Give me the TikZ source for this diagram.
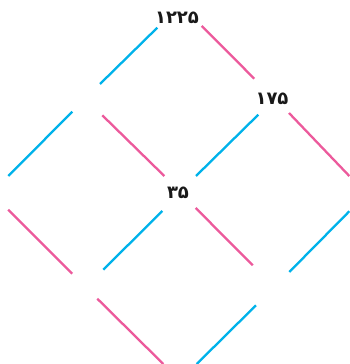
\documentclass[tikz,border=0pt]{standalone}
\usepackage{fontspec}
\newfontfamily\arabicfont[Script=Arabic]{DejaVu Sans}
\definecolor{cyanline}{HTML}{00B2EA}
\definecolor{pinkline}{HTML}{EC5A9C}
\tikzset{
  numlabel/.style={font=\arabicfont\bfseries\fontsize{18}{21}\selectfont, text=black!90, inner sep=0pt},
  cyanseg/.style={draw=cyanline, line width=2.3pt},
  pinkseg/.style={draw=pinkline, line width=2.3pt},
}
\begin{document}
\begin{tikzpicture}[x=1pt,y=1pt]
\useasboundingbox (0,0) rectangle (350,364);
% labels
\node[numlabel] (n1225) at (177,346) {۱۲۲۵};
\node[numlabel] (n175) at (272,265) {۱۷۵};
\node[numlabel] (n35) at (178,171) {۳۵};
% endpoints
\coordinate (c1a) at (157.3,336.3); \coordinate (c1b) at (100,280);
\coordinate (p1a) at (201.7,338);   \coordinate (p1b) at (254.3,285.3);
\coordinate (c2a) at (72.3,252.3);  \coordinate (c2b) at (8.3,188);
\coordinate (p2a) at (102.3,248.7); \coordinate (p2b) at (164.3,188);
\coordinate (c3a) at (258.3,249.3); \coordinate (c3b) at (196,188);
\coordinate (p3a) at (289,251);     \coordinate (p3b) at (349.3,188);
\coordinate (p4a) at (8.3,154.3);   \coordinate (p4b) at (72.3,90.3);
\coordinate (c4a) at (162.3,153);   \coordinate (c4b) at (103.3,94.3);
\coordinate (p5a) at (195.7,156);   \coordinate (p5b) at (252.7,98.7);
\coordinate (c5a) at (349.3,152.7); \coordinate (c5b) at (289.3,92);
\coordinate (p6a) at (97.3,65.3);   \coordinate (p6b) at (163.3,0);
\coordinate (c6a) at (256,58.7);    \coordinate (c6b) at (196.7,0);
% segments
\draw[cyanseg] (c1a) -- (c1b);
\draw[pinkseg] (p1a) -- (p1b);
\draw[cyanseg] (c2a) -- (c2b);
\draw[pinkseg] (p2a) -- (p2b);
\draw[cyanseg] (c3a) -- (c3b);
\draw[pinkseg] (p3a) -- (p3b);
\draw[pinkseg] (p4a) -- (p4b);
\draw[cyanseg] (c4a) -- (c4b);
\draw[pinkseg] (p5a) -- (p5b);
\draw[cyanseg] (c5a) -- (c5b);
\draw[pinkseg] (p6a) -- (p6b);
\draw[cyanseg] (c6a) -- (c6b);
\end{tikzpicture}
\end{document}
